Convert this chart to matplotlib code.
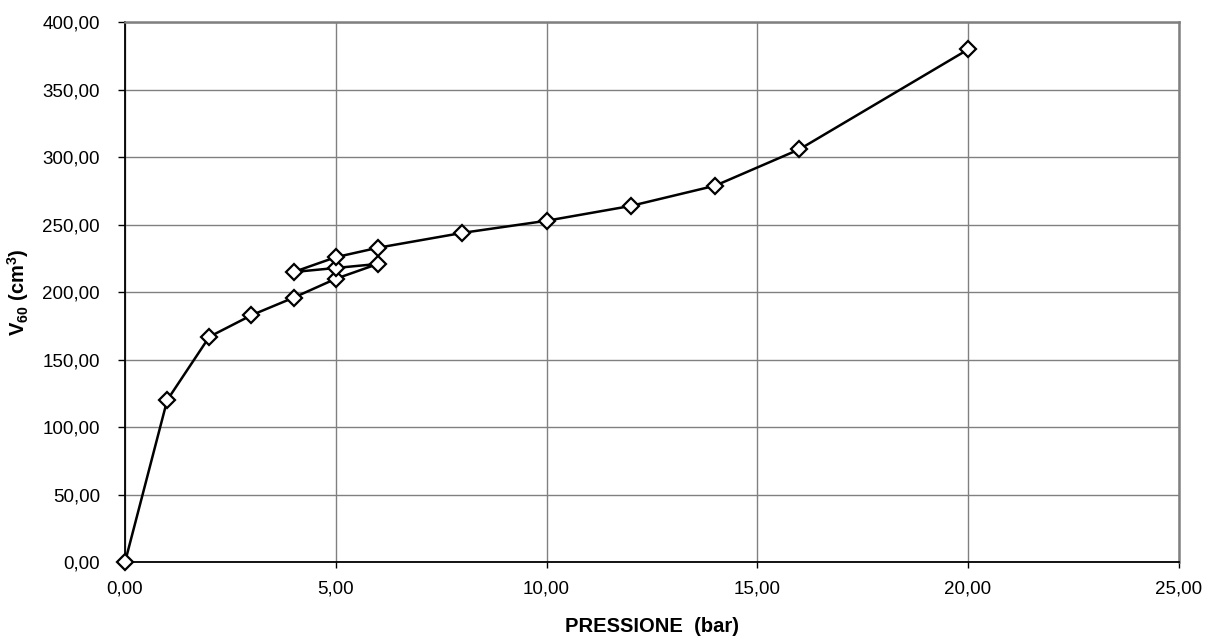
import matplotlib
matplotlib.use("Agg")
import matplotlib.pyplot as plt
from matplotlib.ticker import FuncFormatter, MultipleLocator

pressione = [0, 1, 2, 3, 4, 5, 6, 5, 4, 5, 6, 8, 10, 12, 14, 16, 20]
v60 = [0, 120, 167, 183, 196, 210, 221, 218, 215, 226, 233, 244, 253, 264, 279, 306, 380]

plt.rcParams['font.family'] = ['Liberation Sans', 'DejaVu Sans']
plt.rcParams['mathtext.fontset'] = 'custom'
plt.rcParams['mathtext.rm'] = 'Liberation Sans:bold'
plt.rcParams['mathtext.it'] = 'Liberation Sans:bold'
plt.rcParams['mathtext.bf'] = 'Liberation Sans:bold'

fig = plt.figure(figsize=(12.14, 6.37), dpi=100)
ax = fig.add_axes([0.103, 0.1177, 0.868, 0.847])

ax.plot(pressione, v60, color='black', linewidth=1.8, marker='D', markersize=8.5,
        markerfacecolor='white', markeredgecolor='black', markeredgewidth=1.6, zorder=3,
        clip_on=False)

ax.set_xlim(0, 25)
ax.set_ylim(0, 400)
ax.xaxis.set_major_locator(MultipleLocator(5))
ax.yaxis.set_major_locator(MultipleLocator(50))
fmt = FuncFormatter(lambda v, p: f"{v:.2f}".replace('.', ','))
ax.xaxis.set_major_formatter(fmt)
ax.yaxis.set_major_formatter(fmt)

ax.grid(True, color='#808080', linewidth=1.0)
ax.set_axisbelow(True)

for s in ['left', 'bottom']:
    ax.spines[s].set_color('black')
    ax.spines[s].set_linewidth(1.3)
for s in ['top', 'right']:
    ax.spines[s].set_color('#808080')
    ax.spines[s].set_linewidth(1.8)

ax.tick_params(axis='x', direction='out', length=4.5, width=1, color='black',
               labelsize=13.5, labelcolor='black', pad=9)
ax.tick_params(axis='y', direction='out', length=5, width=1, color='black',
               labelsize=13.5, labelcolor='black', pad=13)

ax.set_xlabel('PRESSIONE  (bar)', fontsize=14.5, fontweight='bold', labelpad=14)
ax.set_ylabel(r'V$_{60}$ (cm$^{3}$)', fontsize=14.5, fontweight='bold', labelpad=8)

fig.savefig('out.png', dpi=100, facecolor='white')
